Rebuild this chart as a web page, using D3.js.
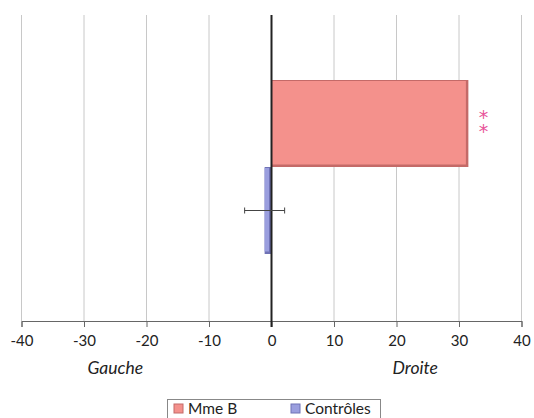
<!DOCTYPE html>
<html><head><meta charset="utf-8">
<script src="https://cdn.jsdelivr.net/npm/d3@7"></script>
<style>body{margin:0;background:#fff}svg{display:block;font-family:Lato,"Open Sans",sans-serif}</style>
</head><body>
<script>
const categories = ["Mme B", "Contrôles"];
const values = [31.5, -1.1];
const errors = [null, 3.2];
const colors = ["#f4918c", "#9a9ede"];
const edgeColors = ["#c46a68", "#6f72b5"];
const xTicks = [-40, -30, -20, -10, 0, 10, 20, 30, 40];
const sideLabels = [{text: "Gauche", at: -25}, {text: "Droite", at: 23}];
const sigMark = "**";

(function () {
const W = 534, H = 418;
const svg = d3.select("body").append("svg").attr("width", W).attr("height", H);
const x = d3.scaleLinear().domain([-40, 40]).range([21.5, 521.5]);
const plotTop = 15, plotBottom = 321;
const y = d3.scaleBand().domain(categories).range([80, 254]).padding(0);

// grid
svg.append("g").selectAll("line").data(xTicks.filter(d => d !== 0)).join("line")
  .attr("x1", d => x(d)).attr("x2", d => x(d)).attr("y1", plotTop).attr("y2", plotBottom)
  .attr("stroke", "#c8c8c8").attr("stroke-width", 1);

// axis
const ax = svg.append("g").attr("transform", `translate(0,${plotBottom})`)
  .call(d3.axisBottom(x).tickValues(xTicks).tickSize(6).tickPadding(8).tickFormat(d => String(d)));
ax.select(".domain").attr("stroke", "#666");
ax.selectAll(".tick line").attr("stroke", "#666");
ax.selectAll(".tick text").attr("font-size", 15).attr("fill", "#222").attr("font-family", "Lato, sans-serif");

// bars
const bars = svg.append("g");
categories.forEach((c, i) => {
  const v = values[i];
  const x0 = x(Math.min(0, v)), x1 = x(Math.max(0, v));
  const yy = y(c), h = y.bandwidth();
  bars.append("rect").attr("x", x0).attr("y", yy).attr("width", x1 - x0).attr("height", h)
    .attr("fill", edgeColors[i]);
  bars.append("rect").attr("x", x0).attr("y", yy + 1).attr("width", Math.max(0, x1 - x0 - 2.5)).attr("height", h - 3.5)
    .attr("fill", colors[i]);
});

// zero line
svg.append("line").attr("x1", x(0)).attr("x2", x(0)).attr("y1", plotTop).attr("y2", plotBottom + 6)
  .attr("stroke", "#222").attr("stroke-width", 2);

// error bars
categories.forEach((c, i) => {
  if (errors[i] == null) return;
  const cy = y(c) + y.bandwidth() / 2;
  const lo = x(values[i] - errors[i]), hi = x(values[i] + errors[i]);
  const g = svg.append("g").attr("stroke", "#444").attr("stroke-width", 1);
  g.append("line").attr("x1", lo).attr("x2", hi).attr("y1", cy).attr("y2", cy);
  g.append("line").attr("x1", lo).attr("x2", lo).attr("y1", cy - 3).attr("y2", cy + 3);
  g.append("line").attr("x1", hi).attr("x2", hi).attr("y1", cy - 3).attr("y2", cy + 3);
});

// significance: one vertical text with two stacked asterisks
const sy = y(categories[0]) + y.bandwidth() / 2;
svg.append("text")
  .attr("x", x(values[0]) + 15).attr("y", sy - 18)
  .attr("font-size", 19).attr("letter-spacing", -8)
  .attr("font-family", "DejaVu Sans, sans-serif").attr("fill", "#e8559a")
  .style("writing-mode", "vertical-rl").style("text-orientation", "upright")
  .text(sigMark);

// side labels
svg.append("g").selectAll("text").data(sideLabels).join("text")
  .attr("x", d => x(d.at)).attr("y", 374).attr("text-anchor", "middle")
  .attr("font-size", 17.5).attr("font-style", "italic").attr("fill", "#222").text(d => d.text);

// legend
const lg = svg.append("g");
lg.append("rect").attr("x", 167.5).attr("y", 399.5).attr("width", 213).attr("height", 24)
  .attr("fill", "#fff").attr("stroke", "#888");
const lx = [174, 291];
categories.forEach((c, i) => {
  lg.append("rect").attr("x", lx[i]).attr("y", 404).attr("width", 9).attr("height", 9)
    .attr("fill", colors[i]).attr("stroke", edgeColors[i]);
  lg.append("text").attr("x", lx[i] + 14).attr("y", 414).attr("font-size", 15.5).attr("fill", "#222").text(c);
});
})();
</script>
</body></html>
